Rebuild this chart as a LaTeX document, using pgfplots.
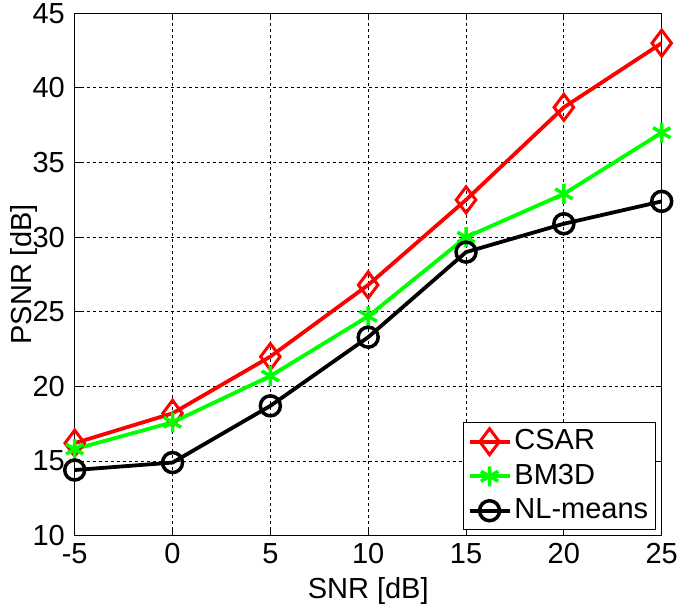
\documentclass[border=0pt]{standalone}
\usepackage{pgfplots}
\pgfplotsset{compat=1.18}
\usepackage{fontspec}
\setmainfont{Liberation Sans}
\begin{document}
\fontsize{29}{33}\selectfont
\begin{tikzpicture}
\useasboundingbox (-74.7pt,-70.3pt) rectangle (603.3pt,535.7pt);
\begin{axis}[
  at={(0,0)}, anchor=south west,
  scale only axis,
  width=587pt, height=522.4pt,
  xmin=-5, xmax=25, ymin=10, ymax=45,
  xtick={-5,0,...,25}, ytick={10,15,...,45},
  /pgf/number format/assume math mode=true,
  tick label style={font=\fontsize{29}{33}\selectfont},
  label style={font=\fontsize{29}{33}\selectfont},
  xlabel={SNR [dB]}, ylabel={PSNR [dB]},
  xlabel style={yshift=6pt},
  ylabel style={yshift=-15pt, inner sep=0pt},
  xticklabel style={yshift=2pt},
  yticklabel style={xshift=0pt},
  tick align=inside,
  major tick length=6pt,
  axis line style={line width=1.3pt},
  tick style={line width=1pt, black},
  grid=major,
  grid style={black, line width=0.9pt, dash pattern=on 3pt off 3pt},
  legend cell align=left,
  legend style={at={(0.99,0.01)}, anchor=south east, draw=black, line width=1.2pt,
    font=\fontsize{29}{33}\selectfont, row sep=4pt, inner sep=4pt,
    nodes={inner sep=3pt}},
  legend image code/.code={%
    \draw[mark repeat=2,mark phase=2,#1] plot coordinates {(0pt,0pt)(20pt,0pt)(40pt,0pt)};},
]
\addplot[red, line width=3.8pt, mark=diamond, mark size=13pt, mark options={solid, line width=3pt}]
  coordinates {(-5,16.2)(0,18.2)(5,22.0)(10,26.8)(15,32.5)(20,38.7)(25,43.0)};
\addlegendentry{CSAR}
\addplot[green, line width=3.8pt, mark=asterisk, mark size=10pt, mark options={solid, line width=3.5pt}]
  coordinates {(-5,15.8)(0,17.6)(5,20.7)(10,24.7)(15,30.0)(20,32.9)(25,37.0)};
\addlegendentry{BM3D}
\addplot[black, line width=3.8pt, mark=o, mark size=10pt, mark options={solid, line width=3.5pt}]
  coordinates {(-5,14.4)(0,14.9)(5,18.7)(10,23.3)(15,29.0)(20,30.9)(25,32.4)};
\addlegendentry{NL-means}
\end{axis}
\end{tikzpicture}
\end{document}
